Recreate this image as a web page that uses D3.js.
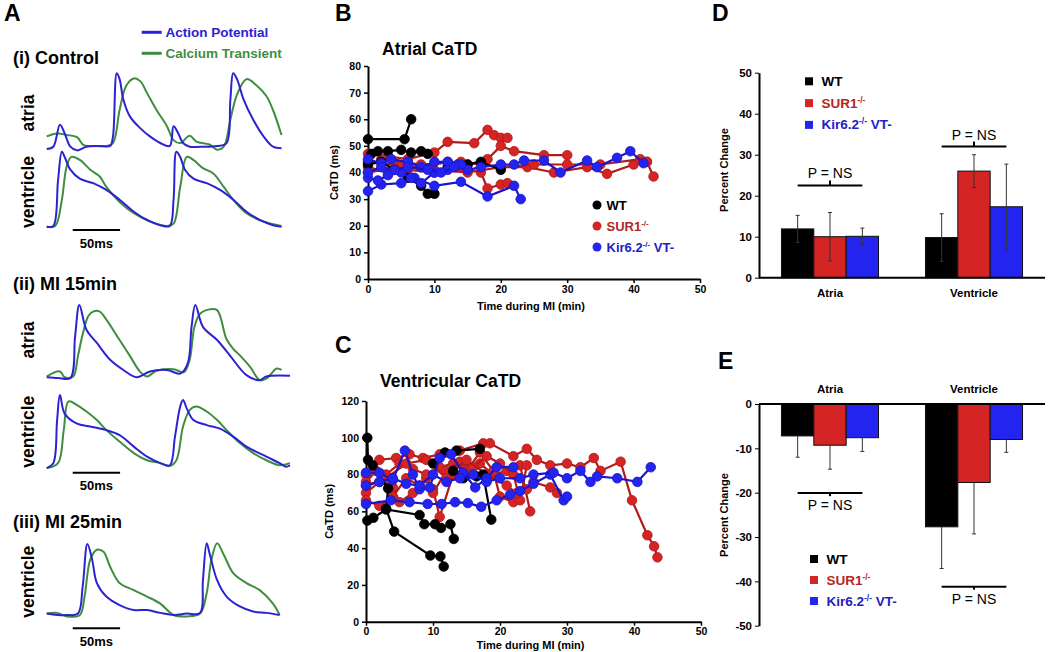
<!DOCTYPE html>
<html>
<head>
<meta charset="utf-8">
<script src="https://cdn.jsdelivr.net/npm/d3@7"></script>
<style>
  body { margin: 0; background: #fff; }
  svg text { font-family: "Liberation Sans", Arial, sans-serif; }
</style>
</head>
<body>
<svg id="fig" width="1050" height="652"></svg>
<script>
// ---- panel A: optical traces, [time ms, normalised amplitude] ----
const ctrlAtriaAP = [[0,-3],[7,0],[14,30],[19,18],[25,0],[32,-5],[42,0],[56,1],[67,1],[70,14],[74,100],[77,92],[81,64],[88,41],[99,25],[109,14],[120,5],[130,1],[134,28],[139,18],[144,5],[151,0],[162,0],[180,1],[190,5],[194,64],[197,100],[201,92],[208,64],[218,37],[229,14],[239,0],[248,-2]];
const ctrlAtriaCa = [[0,14],[11,18],[21,16],[32,13],[39,2],[49,1],[63,1],[70,5],[77,50],[84,83],[92,93],[99,89],[106,73],[116,50],[127,28],[134,9],[141,5],[151,15],[158,7],[172,3],[180,-4],[187,0],[194,37],[201,71],[211,92],[222,83],[232,69],[239,50],[248,16]];
const ctrlVentAP = [[0,0],[7,1],[12,62],[16,100],[19,93],[25,76],[35,64],[49,58],[63,49],[77,36],[92,20],[106,9],[120,2],[130,1],[134,36],[137,100],[141,93],[146,76],[155,64],[169,58],[183,49],[197,36],[211,20],[225,9],[239,2],[248,0]];
const ctrlVentCa = [[0,0],[9,1],[16,36],[21,80],[26,93],[35,89],[46,76],[56,67],[63,53],[77,33],[92,18],[109,7],[127,1],[134,4],[141,53],[148,93],[155,89],[165,78],[176,71],[187,53],[197,36],[211,18],[229,7],[248,1]];
const mi15AtriaAP = [[0,1],[12,0],[25,0],[30,57],[34.5,100],[42,66],[53,48],[67,25],[81,11],[95,1],[109,9],[127,11],[141,6],[149,20],[153,70],[157,100],[165,70],[180,52],[194,30],[211,4],[225,-3],[232,2],[257,3]];
const mi15AtriaCa = [[0,2],[14,9],[19,1],[28,2],[33,30],[38,60],[44,85],[49,91],[56,91],[63,80],[77,52],[88,30],[99,8],[106,2],[116,10],[134,12],[145,8],[151,25],[156,70],[162,88],[172,94],[180,93],[190,53],[197,40],[204,31],[215,15],[225,-3],[232,-1],[243,13],[248,11]];
const mi15VentAP = [[0,-2],[7,5],[11,65],[14,100],[19,74],[32,60],[46,56],[63,51],[77,44],[92,28],[106,14],[120,5],[130,2],[135.5,42],[141,84],[144,93],[148,81],[155,65],[169,58],[183,53],[197,42],[211,28],[232,14],[246,5],[253,0],[257,2]];
const mi15VentCa = [[0,-2],[12,5],[18,51],[23,91],[32,86],[42,77],[53,65],[63,51],[77,35],[92,19],[106,9],[120,5],[130,1],[137,9],[144,56],[151,79],[158,84],[169,77],[180,65],[190,51],[204,33],[218,19],[232,9],[246,2],[257,5]];
const mi25VentAP = [[0,1],[11,-1],[21,-1],[33,1],[38,39],[43,99],[48,77],[53,44],[63,25],[77,13],[92,6],[106,6],[120,2],[134,-1],[148,1],[162,2],[165,48],[169,100],[172,86],[180,48],[190,25],[204,11],[218,4],[232,2],[246,-1]];
const mi25VentCa = [[0,1],[11,2],[21,-3],[35,-1],[40,25],[46,77],[53,91],[60,88],[67,67],[77,44],[92,34],[106,25],[120,15],[134,-1],[148,-3],[162,1],[169,30],[174,77],[180,100],[187,84],[197,58],[211,44],[225,34],[239,15],[246,-1]];

// ---- panels B / C: CaTD (ms) vs time during MI (min), one array per heart ----
const atrialWT = [
  [[0,52.5],[5.5,52.5],[6.5,60]],
  [[0.5,47],[1.5,48],[3,48],[5,48.5],[6.5,47.5],[8,48],[9,47]],
  [[0,43],[2,44],[4,41],[6,38],[8,35],[9,32],[10,32]],
  [[12,42],[15,43],[17,44],[20,41]]
];
const atrialSUR1 = [
  [[0,47],[3,46],[6,45],[10,47.5],[12,51.5],[16,51],[18,56],[19,54],[20,53],[21,53]],
  [[0,44],[4,43],[8,42],[12,44],[15,43],[18,45],[20,50],[22,48],[26.5,46.5],[30,46.5]],
  [[0,42],[3,40],[6,41],[10,40],[14,42],[17,40],[18,34],[20,35.5],[21,36]],
  [[0,40],[5,42],[10,41],[15,40],[20,42],[24,42],[28,40],[33,42],[36,39.5],[40,43],[42,44],[43,38.5]],
  [[2,45],[8,43],[14,44],[20,42],[25,43],[30,43],[35,43],[41,45],[42,44]]
];
const atrialKir = [
  [[0,45],[2,43.5],[3.5,45],[6,44],[8,42],[10,44],[12,44],[13.5,43],[15,41],[17,42],[20,43],[22,43],[23.5,44.5],[26.5,44.5],[29,40],[33,44.5],[34.5,42],[37.5,45.5],[39.5,48],[41.5,43.5]],
  [[0,33],[2,35.5],[5,36],[7,38],[10,35],[14,36.5],[18,31],[22,35],[23,30]],
  [[0,38],[1.5,37],[3,39],[5,40],[6.5,38],[8,36],[10,40],[12,41],[14,43]],
  [[0,40],[2,42],[4,41],[6,42],[9,41],[11,40],[13,42]]
];
const ventWT = [
  [[0.2,100],[0.3,88],[1,85],[3.3,72.5],[3,61.5],[4.2,49],[9.6,36],[11.1,35.5],[11.6,30]],
  [[0.2,55],[1.1,56.5],[3,61],[8,58],[8.7,53],[10.3,53],[11.2,51],[12.6,53],[13.1,45]],
  [[10,86],[11.8,92],[13.5,93],[17,94]],
  [[13,82],[14.5,78],[16.5,79],[17.5,80],[18.7,55.5]]
];
const ventSUR1 = [
  [[0,80],[2,88],[4.5,89],[6.5,91],[8.5,89],[11,91],[14,93],[17.5,97],[18.5,97],[22,90],[24,94],[25.5,88],[27.5,85],[30,86],[32,84],[34,89],[35,82],[38,87],[39.7,66],[42,47],[43,41],[43.5,35]],
  [[0,70],[2,76],[4,73],[5,65],[7,70],[9,78],[10,72],[11,57],[13,80],[15,84],[17,86],[19,80],[21,82],[23,85],[24.5,60]],
  [[0,76],[1.5,82],[3,80],[5,86],[7,83],[9,80],[11,84],[13,86],[15,82],[17,92],[19,82],[20,68],[22,65],[24,72],[25,76],[27.5,73],[28.5,70]],
  [[0,66],[2,63],[4,68],[6,78],[8,74],[10,70],[12,82],[14,87],[16,84],[18,90],[20,86],[22,80],[23,66],[24,85]],
  [[0,74],[3,78],[6,86],[9,88],[12,78],[15,88],[18,80],[21,74],[22.5,70]]
];
const ventKir = [
  [[0,64],[3.7,66],[6.5,65],[9.2,64],[11.3,64],[13.3,65],[15.2,64.5],[17.2,62.5],[19.5,66],[21.5,69],[23,71],[25,75],[27.5,80],[29.5,66],[30,68]],
  [[0,81],[2,81],[4,77],[5.8,93],[7,80],[8,72],[9.5,73],[11,89],[12.7,91],[14.5,81],[16.3,73],[18,78],[19.5,84],[22,84]],
  [[0,74],[2,76],[4,78],[6,75],[8,74],[10,80],[12,76],[14,78],[16,80],[18,76],[20,78],[23,78],[25,80],[28,81],[30,78],[32,82],[33.5,76],[34.5,79],[37.5,78],[40.5,76],[42.5,84]]
];
const catdTimeTicks = [0, 10, 20, 30, 40, 50];

// ---- panels D / E: percent change, mean and SEM ----
const chambers = ["Atria", "Ventricle"];
const genotypes = ["WT", "SUR1", "Kir"];
const incWT = [11.9, 9.8],    incWTerr = [3.3, 5.8];
const incSUR1 = [10, 26],     incSUR1err = [5.9, 4];
const incKir = [10.1, 17.3],  incKirerr = [2, 10.4];
const decWT = [-7.2, -27.7],  decWTerr = [4.8, 9.4];
const decSUR1 = [-9.3, -17.7], decSUR1err = [5.4, 11.6];
const decKir = [-7.6, -8],    decKirerr = [3.1, 2.9];
const incBracket = [22.5, 32];
const decBracket = [-20.1, -41.2];

const fontBold = "bold";
const svg = d3.select("#fig");
const blueTrace = "#2d22d2", greenTrace = "#3f8e3f";
const colors = { WT: "#000000", SUR1: "#d42424", Kir: "#2424f0" };
const textColors = { WT: "#000000", SUR1: "#b42626", Kir: "#2222c4" };

function letter(x, y, s) {
  svg.append("text").attr("x", x).attr("y", y).attr("font-size", 23)
    .attr("font-weight", fontBold).text(s);
}

function genoText(g, x, y, name, size) {
  const t = g.append("text").attr("x", x).attr("y", y).attr("font-size", size)
    .attr("font-weight", fontBold).attr("fill", textColors[name]);
  if (name === "WT") { t.text("WT"); return; }
  t.append("tspan").text(name === "SUR1" ? "SUR1" : "Kir6.2");
  t.append("tspan").attr("dy", -5).attr("font-size", size * 0.62).text("-/-");
  if (name === "Kir") t.append("tspan").attr("dy", 5).text(" VT-");
}

// ================= A =================
letter(4, 21, "A");
const xT = d3.scaleLinear().domain([0, 250]).range([46.7, 283.4]);

const traceRows = [
  { ap: ctrlAtriaAP, ca: ctrlAtriaCa, base: 146.7, peak: 73.3 },
  { ap: ctrlVentAP, ca: ctrlVentCa, base: 226.7, peak: 151.7 },
  { ap: mi15AtriaAP, ca: mi15AtriaCa, base: 378, peak: 305 },
  { ap: mi15VentAP, ca: mi15VentCa, base: 466.7, peak: 395 },
  { ap: mi25VentAP, ca: mi25VentCa, base: 614.3, peak: 543.3 }
];
const gA = svg.append("g");
traceRows.forEach(r => {
  const yS = d3.scaleLinear().domain([0, 100]).range([r.base, r.peak]);
  const line = d3.line().x(d => xT(d[0])).y(d => yS(d[1])).curve(d3.curveCatmullRom);
  gA.append("path").attr("d", line(r.ca)).attr("fill", "none")
    .attr("stroke", greenTrace).attr("stroke-width", 2);
  gA.append("path").attr("d", line(r.ap)).attr("fill", "none")
    .attr("stroke", blueTrace).attr("stroke-width", 2);
});

// trace legend
[["Action Potential", blueTrace, 32.3], ["Calcium Transient", greenTrace, 53.3]].forEach(([s, c, y]) => {
  gA.append("line").attr("x1", 141.7).attr("x2", 161.7).attr("y1", y).attr("y2", y)
    .attr("stroke", c).attr("stroke-width", 3);
  gA.append("text").attr("x", 165.5).attr("y", y + 5).attr("font-size", 13.5)
    .attr("font-weight", fontBold).attr("fill", c).text(s);
});

[["(i) Control", 63.5], ["(ii) MI 15min", 290], ["(iii) MI 25min", 528]].forEach(([s, y]) => {
  gA.append("text").attr("x", 13).attr("y", y).attr("font-size", 18)
    .attr("font-weight", fontBold).text(s);
});

[["atria", 113], ["ventricle", 192], ["atria", 340], ["ventricle", 431.7], ["ventricle", 581.7]].forEach(([s, y]) => {
  gA.append("text").attr("transform", `translate(34,${y}) rotate(-90)`)
    .attr("text-anchor", "middle").attr("font-size", 17.5)
    .attr("font-weight", fontBold).text(s);
});

[230, 472.7, 628.3].forEach(y => {
  gA.append("line").attr("x1", xT(27.5)).attr("x2", xT(77.5)).attr("y1", y).attr("y2", y)
    .attr("stroke", "#000").attr("stroke-width", 2);
  gA.append("text").attr("x", xT(52.5)).attr("y", y + 17.5).attr("text-anchor", "middle")
    .attr("font-size", 13).attr("font-weight", fontBold).text("50ms");
});

// ================= B / C =================
function catdPanel(opts) {
  const g = svg.append("g");
  const x = d3.scaleLinear().domain([0, 50]).range([opts.x0, opts.x1]);
  const y = d3.scaleLinear().domain([0, opts.yMax]).range([opts.y0, opts.y1]);

  const xAxis = g.append("g").attr("transform", `translate(0,${opts.y0})`)
    .call(d3.axisBottom(x).tickValues(catdTimeTicks).tickSize(4).tickPadding(opts.xPad).tickSizeOuter(0));
  const yAxis = g.append("g").attr("transform", `translate(${opts.x0},0)`)
    .call(d3.axisLeft(y).tickValues(d3.range(0, opts.yMax + 1, opts.yStep)).tickSize(4).tickSizeOuter(0));
  [xAxis, yAxis].forEach(a => {
    a.select(".domain").attr("stroke-width", 2);
    a.selectAll(".tick line").attr("stroke-width", 1.5);
    a.selectAll("text").attr("font-size", 10.5).attr("font-weight", fontBold)
      .attr("font-family", "Liberation Sans, Arial, sans-serif").attr("fill", "#000");
  });

  g.append("text").attr("x", (opts.x0 + opts.x1) / 2 - 3).attr("y", opts.y0 + opts.xLabelDy)
    .attr("text-anchor", "middle").attr("font-size", 11).attr("font-weight", fontBold)
    .text("Time during MI (min)");
  g.append("text").attr("transform", `translate(${opts.labelX},${(opts.y0 + opts.y1) / 2}) rotate(-90)`)
    .attr("text-anchor", "middle").attr("font-size", 11).attr("font-weight", fontBold)
    .text("CaTD (ms)");
  g.append("text").attr("x", opts.titleX).attr("y", opts.titleY).attr("font-size", 17.5)
    .attr("font-weight", fontBold).text(opts.title);

  const line = d3.line().x(d => x(d[0])).y(d => y(d[1]));
  [["SUR1", opts.sur1], ["WT", opts.wt], ["Kir", opts.kir]].forEach(([name, series]) => {
    const c = colors[name];
    const stroke = name === "SUR1" ? "#b01a1a" : name === "Kir" ? "#1a14c8" : "#000";
    series.forEach(s => {
      g.append("path").attr("d", line(s)).attr("fill", "none")
        .attr("stroke", stroke).attr("stroke-width", 2.2);
      g.selectAll(null).data(s).join("circle")
        .attr("cx", d => x(d[0])).attr("cy", d => y(d[1])).attr("r", 4.8)
        .attr("fill", c).attr("stroke", stroke).attr("stroke-width", 0.8);
    });
  });
  return g;
}

letter(335, 21, "B");
const gB = catdPanel({
  x0: 368, x1: 700, y0: 279, y1: 66, yMax: 80, yStep: 10, labelX: 338, xLabelDy: 31, xPad: 3,
  title: "Atrial CaTD", titleX: 382, titleY: 55,
  wt: atrialWT, sur1: atrialSUR1, kir: atrialKir
});
genotypes.forEach((name, i) => {
  const yy = 205 + i * 21;
  gB.append("circle").attr("cx", 597).attr("cy", yy).attr("r", 4.5).attr("fill", colors[name]);
  genoText(gB, 606.5, yy + 5, name, 13);
});

letter(335, 353, "C");
catdPanel({
  x0: 366, x1: 701, y0: 621.7, y1: 401, yMax: 120, yStep: 20, labelX: 333, xLabelDy: 27, xPad: 1.5,
  title: "Ventricular CaTD", titleX: 380, titleY: 387,
  wt: ventWT, sur1: ventSUR1, kir: ventKir
});

// ================= D / E =================
function barPanel(opts) {
  const g = svg.append("g");
  const x = d3.scaleBand().domain(chambers).range([759, 1045]).paddingInner(0.326).paddingOuter(0.156);
  const xs = d3.scaleBand().domain(genotypes).range([0, x.bandwidth()]);
  const y = d3.scaleLinear().domain(opts.domain).range(opts.range);

  const yAxis = g.append("g").attr("transform", "translate(759,0)")
    .call(d3.axisLeft(y).tickValues(d3.range(opts.domain[0], opts.domain[1] + 1, 10))
      .tickFormat(d => String(d)).tickSize(4).tickSizeOuter(0));
  yAxis.select(".domain").attr("stroke-width", 2);
  yAxis.selectAll("text").attr("font-size", 11.5).attr("font-weight", fontBold)
    .attr("font-family", "Liberation Sans, Arial, sans-serif").attr("fill", "#000");

  const rows = genotypes.map((name, i) => ({ name, vals: opts.means[i], errs: opts.errs[i] }));
  rows.forEach(r => {
    chambers.forEach((ch, j) => {
      const v = r.vals[j], e = r.errs[j];
      const bx = x(ch) + xs(r.name);
      g.append("rect").attr("x", bx).attr("width", xs.bandwidth())
        .attr("y", y(Math.max(0, v))).attr("height", Math.abs(y(v) - y(0)))
        .attr("fill", colors[r.name]).attr("stroke", "#111").attr("stroke-width", 1);
      const cx = bx + xs.bandwidth() / 2;
      const lo = opts.bothWays ? v - e : v;
      const hi = v + (v >= 0 ? e : -e);
      g.append("line").attr("x1", cx).attr("x2", cx).attr("y1", y(lo)).attr("y2", y(hi))
        .attr("stroke", "#333").attr("stroke-width", 1);
      g.append("line").attr("x1", cx - 2).attr("x2", cx + 2).attr("y1", y(hi)).attr("y2", y(hi))
        .attr("stroke", "#333").attr("stroke-width", 1);
      if (opts.bothWays)
        g.append("line").attr("x1", cx - 2).attr("x2", cx + 2).attr("y1", y(lo)).attr("y2", y(lo))
          .attr("stroke", "#333").attr("stroke-width", 1);
    });
  });

  g.append("line").attr("x1", 759).attr("x2", 1045).attr("y1", y(0)).attr("y2", y(0))
    .attr("stroke", "#000").attr("stroke-width", 2);

  chambers.forEach(ch => {
    g.append("text").attr("x", x(ch) + x.bandwidth() / 2).attr("y", opts.catY)
      .attr("text-anchor", "middle").attr("font-size", 11.5).attr("font-weight", fontBold).text(ch);
  });

  // P = NS brackets
  chambers.forEach((ch, j) => {
    const by = y(opts.bracket[j]);
    const xa = x(ch) + xs("WT") + xs.bandwidth() / 2;
    const xb = x(ch) + xs("Kir") + xs.bandwidth() / 2;
    const xm = (xa + xb) / 2;
    g.append("line").attr("x1", xa).attr("x2", xb).attr("y1", by).attr("y2", by)
      .attr("stroke", "#000").attr("stroke-width", 2);
    g.append("line").attr("x1", xm).attr("x2", xm).attr("y1", by).attr("y2", by + opts.tick)
      .attr("stroke", "#000").attr("stroke-width", 2);
    g.append("text").attr("x", xm).attr("y", by + opts.textDy).attr("text-anchor", "middle")
      .attr("font-size", 14).text("P = NS");
  });

  g.append("text").attr("transform", `translate(728,${opts.labelY}) rotate(-90)`)
    .attr("text-anchor", "middle").attr("font-size", 11).attr("font-weight", fontBold)
    .text("Percent Change");

  genotypes.forEach((name, i) => {
    const yy = opts.legY + i * opts.legStep;
    g.append("rect").attr("x", opts.legX).attr("y", yy).attr("width", 8).attr("height", 8)
      .attr("fill", colors[name]);
    genoText(g, opts.legX + 16.5, yy + 8.5, name, 13.5);
  });
}

letter(712, 21, "D");
barPanel({
  domain: [0, 50], range: [277.7, 72.7], bothWays: true,
  means: [incWT, incSUR1, incKir], errs: [incWTerr, incSUR1err, incKirerr],
  bracket: incBracket, tick: -5, textDy: -7, catY: 297,
  labelY: 170, legX: 805, legY: 77.3, legStep: 21.8
});

letter(718, 369, "E");
barPanel({
  domain: [-50, 0], range: [625.7, 404], bothWays: false,
  means: [decWT, decSUR1, decKir], errs: [decWTerr, decSUR1err, decKirerr],
  bracket: decBracket, tick: 3, textDy: 17, catY: 393,
  labelY: 515, legX: 810, legY: 555, legStep: 21
});
</script>
</body>
</html>
